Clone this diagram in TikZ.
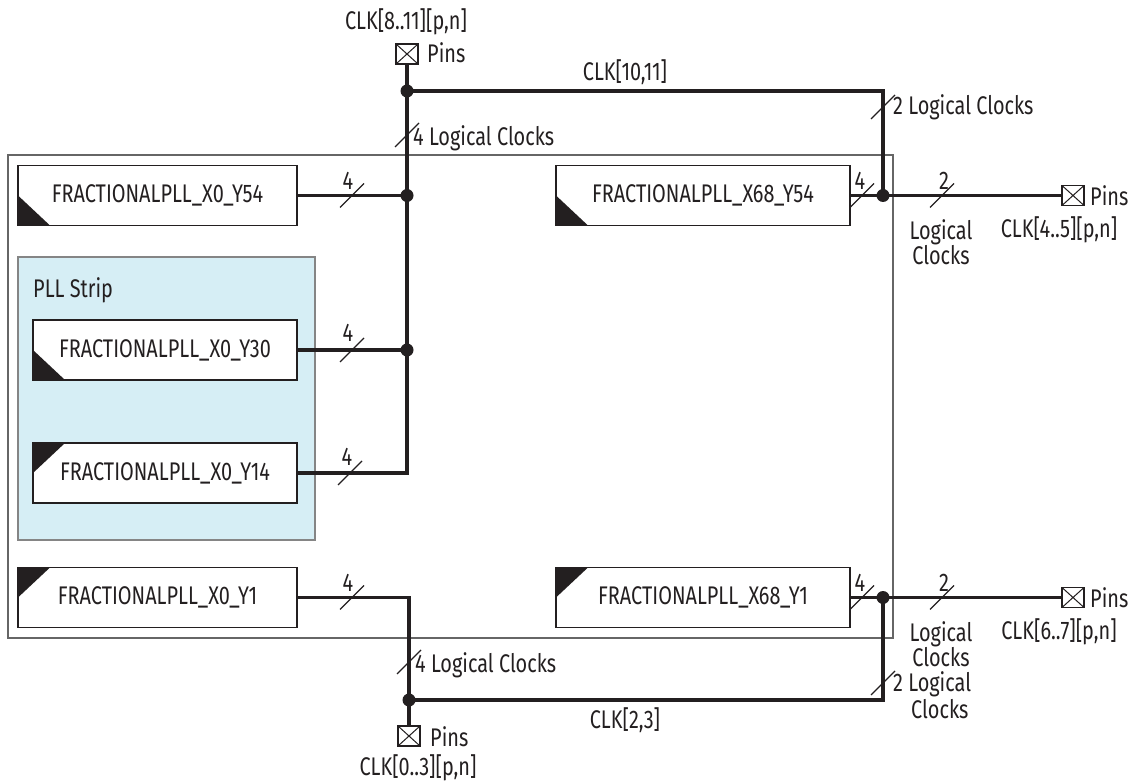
\documentclass[tikz,border=0pt]{standalone}
\usepackage{fontspec}
\setmainfont[FakeStretch=0.78]{Fira Sans}
\definecolor{wirec}{HTML}{231F20}
\definecolor{stripblue}{HTML}{D6EEF5}
\definecolor{chipgray}{HTML}{666666}
\begin{document}
\begin{tikzpicture}[x=1pt,y=-1pt,
  every node/.style={font=\fontsize{25.5}{25}\selectfont, inner sep=0pt, text=wirec},
  pll/.style={draw=wirec, line width=1.3pt, fill=white, minimum height=60pt},
  triBL/.style={path picture={\fill[wirec] (path picture bounding box.south west) -- ++(32pt,0pt) -- ++(-32pt,30pt) -- cycle;}},
  triTL/.style={path picture={\fill[wirec] (path picture bounding box.north west) -- ++(32pt,0pt) -- ++(-32pt,-30pt) -- cycle;}},
  wire/.style={line width=3.4pt, draw=wirec},
  jdot/.style={circle, fill=wirec, minimum size=13pt},
  pinbox/.style={draw=wirec, line width=1.2pt, fill=white, minimum width=22pt, minimum height=20pt,
    path picture={\draw[wirec, line width=1pt] (path picture bounding box.south west) -- (path picture bounding box.north east)
      (path picture bounding box.north west) -- (path picture bounding box.south east);}},
  busmark/.pic={\draw[wirec, line width=1.2pt] (-12pt,-12pt) -- (12pt,12pt);},
  lbl/.style={align=center},
]
\useasboundingbox (0,0) rectangle (1133,783);

% chip outline and PLL strip
\node[draw=chipgray, line width=1.3pt, minimum width=885pt, minimum height=483pt] (chip) at (450.5,396.5) {};
\node[draw=chipgray!80, line width=1.2pt, fill=stripblue, minimum width=297pt, minimum height=283pt] (strip) at (166.5,398.5) {};
\node[anchor=west] (striplbl) at (33,290) {PLL Strip};

% PLL blocks
\node[pll, triBL, minimum width=279pt] (pA) at (157.5,195.5) {FRACTIONALPLL\_X0\_Y54};
\node[pll, triBL, minimum width=264pt] (pB) at (165,350) {FRACTIONALPLL\_X0\_Y30};
\node[pll, triTL, minimum width=264pt] (pC) at (165,473) {FRACTIONALPLL\_X0\_Y14};
\node[pll, triTL, minimum width=279pt] (pD) at (157.5,597.5) {FRACTIONALPLL\_X0\_Y1};
\node[pll, triBL, minimum width=294pt] (pE) at (703,195.5) {FRACTIONALPLL\_X68\_Y54};
\node[pll, triTL, minimum width=294pt] (pF) at (703,597.5) {FRACTIONALPLL\_X68\_Y1};

% junctions
\node[jdot] (jT) at (407,91) {};
\node[jdot] (jA) at (407,195.5) {};
\node[jdot] (jB) at (407,350) {};
\node[jdot] (jE) at (883,195.5) {};
\node[jdot] (jF) at (883,597.5) {};
\node[jdot] (jBot) at (409,700) {};

% pins
\node[pinbox] (pinT) at (407,54) {};
\node[pinbox] (pinB) at (409,736) {};
\node[pinbox] (pinE) at (1073,195.5) {};
\node[pinbox] (pinF) at (1073,597.5) {};

% wires
\draw[wire] (pinT.south) -- (jT.center) -- (jA.center) -- (jB.center) |- (pC.east);
\draw[wire] (pA.east) -- (jA.center);
\draw[wire] (pB.east) -- (jB.center);
\draw[wire] (jT.center) -| (jE.center);
\draw[wire] (pE.east) -- (jE.center) -- (pinE.west);
\draw[wire] (pD.east) -| (jBot.center) -- (pinB.north);
\draw[wire] (jBot.center) -| (jF.center);
\draw[wire] (pF.east) -- (jF.center) -- (pinF.west);

% bus width marks
\pic at (352,195.5) {busmark};
\pic at (352,350) {busmark};
\pic at (350,473) {busmark};
\pic at (352,597.5) {busmark};
\pic at (407,135) {busmark};
\pic at (883,107) {busmark};
\pic at (862,195.5) {busmark};
\pic at (942,195.5) {busmark};
\pic at (862,597.5) {busmark};
\pic at (942,597.5) {busmark};
\pic at (409,662) {busmark};
\pic at (883,683) {busmark};

% width labels
\node (nA) at (348,181) {4};
\node (nB) at (348,333) {4};
\node (nC) at (347,457) {4};
\node (nD) at (348,583) {4};
\node (nE1) at (860,181) {4};
\node (nF1) at (860,583) {4};
\node (nE2) at (944,181) {2};
\node (nF2) at (944,583) {2};
\node[lbl] (lcE) at (941,242) {Logical\\Clocks};
\node[lbl] (lcF) at (941,644) {Logical\\Clocks};

% pin and bus labels
\node (clkT) at (406,22) {CLK[8..11][p,n]};
\node[anchor=west] (pinsT) at (427,53) {Pins};
\node[anchor=west] (lcT) at (413,138) {4 Logical Clocks};
\node (clkTR) at (625,72) {CLK[10,11]};
\node[anchor=west] (lcTR) at (893,107) {2 Logical Clocks};
\node[anchor=west] (pinsE) at (1090,195.5) {Pins};
\node (clkE) at (1059,230) {CLK[4..5][p,n]};
\node[anchor=west] (pinsF) at (1090,597.5) {Pins};
\node (clkF) at (1059,632) {CLK[6..7][p,n]};
\node[anchor=west] (lcB) at (415,665) {4 Logical Clocks};
\node[anchor=west] (lcBR) at (893,684) {2 Logical};
\node[anchor=west] (lcBR2) at (911,709) {Clocks};
\node (clkBR) at (625,720) {CLK[2,3]};
\node[anchor=west] (pinsB) at (430,737) {Pins};
\node (clkB) at (418,768) {CLK[0..3][p,n]};
\end{tikzpicture}
\end{document}
